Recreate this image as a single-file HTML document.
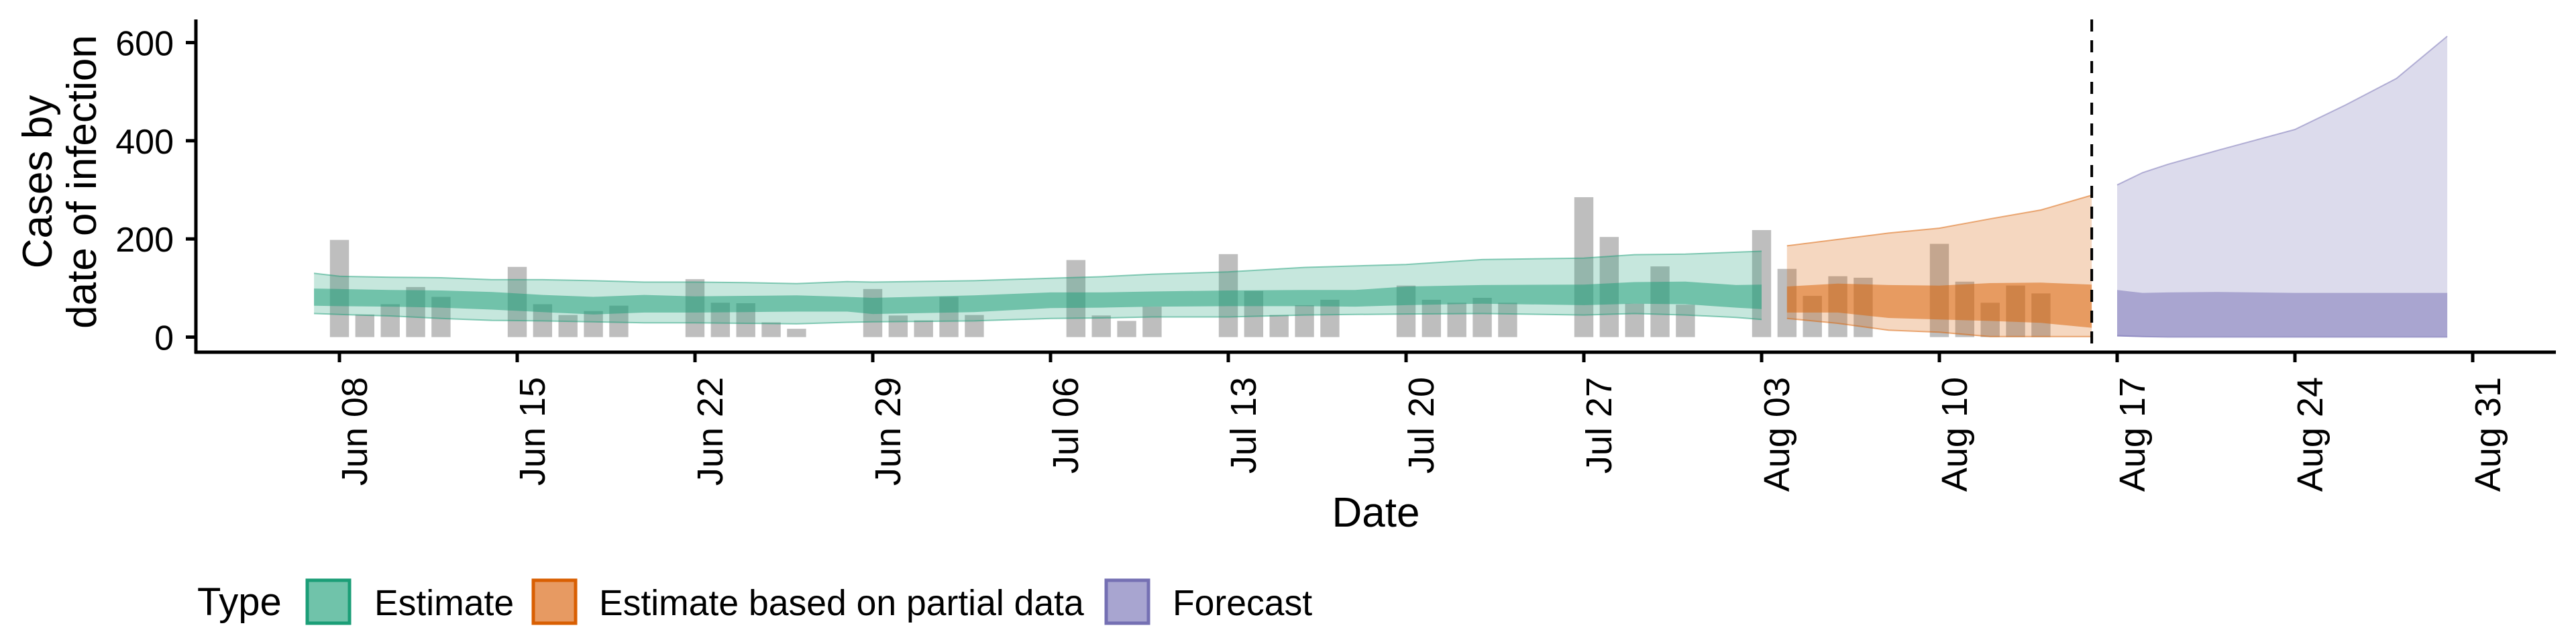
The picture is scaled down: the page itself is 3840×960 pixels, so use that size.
<!DOCTYPE html>
<html><head><meta charset="utf-8"><style>
html,body{margin:0;padding:0;background:#fff;}
svg{display:block;font-family:"Liberation Sans",sans-serif;}
</style></head><body>
<svg id="chart" width="3840" height="960" viewBox="0 0 3840 960" xmlns="http://www.w3.org/2000/svg">
<g id="bars"></g>
<g id="ribbons"></g>
<g id="axes"></g>
<g font-size="62" fill="#000">
<text transform="translate(77,271) rotate(-90)" text-anchor="middle">Cases by</text>
<text transform="translate(143,271) rotate(-90)" text-anchor="middle">date of infection</text>
</g>
<text x="2051" y="785" font-size="62" text-anchor="middle">Date</text>
<g font-size="53.5">
<text x="294" y="917" font-size="58">Type</text>
<g>
<rect x="458" y="865" width="63" height="64" fill="#70c3aa" stroke="#1b9e77" stroke-width="5"/>
<text x="558" y="917">Estimate</text></g>
<g>
<rect x="795" y="865" width="63" height="64" fill="#e79a62" stroke="#d95f02" stroke-width="5"/>
<text x="893" y="917">Estimate based on partial data</text></g>
<g>
<rect x="1649" y="865" width="63" height="64" fill="#a8a5d0" stroke="#7570b3" stroke-width="5"/>
<text x="1748" y="917">Forecast</text></g>
</g>
</svg>
<script>
// observed cases (day offset from Jun 08)
const barDays = [0,1,2,3,4,7,8,9,10,11,14,15,16,17,18,21,22,23,24,25,29,30,31,32,35,36,37,38,39,42,43,44,45,46,49,50,51,52,53,56,57,58,59,60,63,64,65,66,67];
const barValues = [198,46,67,102,82,143,67,45,53,64,118,70,69,30,17,98,44,34,82,45,157,44,33,62,169,94,45,65,76,105,76,70,80,70,285,204,68,144,66,218,139,84,124,121,190,113,70,105,89];
// Estimate
const estDays = [-1,0,2,4,6,8,10,12,14,16,18,20,21,25,28,30,32,35,38,40,42,45,49,51,53,55,56];
const estHi90 = [130,124,122,121,117,117,115,112,112,111,109,113,112,115,120,123,128,133,142,145,148,158,161,168,169,173,175];
const estLo90 = [48,46,43,38,34,33,31,29,29,28,27,30,31,33,38,39,41,41,45,46,47,48,45,48,45,40,36];
const estHi50 = [99,98,96,95,92,86,82,86,83,84,85,82,80,85,91,91,93,95,96,96,103,106,107,112,113,106,107];
const estLo50 = [64,63,62,60,56,51,46,50,50,51,52,52,47,51,59,60,62,63,63,62,65,68,65,68,67,60,57];
// Estimate based on partial data
const partDays = [57,59,61,63,65,67,69];
const partHi90 = [186,199,212,222,241,259,289];
const partLo90 = [38,28,14,10,1,1,1];
const partHi50 = [103,109,106,105,110,111,107];
const partLo50 = [50,50,39,36,33,29,19];
// Forecast
const fcDays = [70,71,72,74,77,79,81,83];
const fcHi90 = [310,335,352,381,423,473,527,613];
const fcLo90 = [3,1,0,0,0,0,0,0];
const fcHi50 = [96,90,91,92,90,90,90,90];
const fcLo50 = [1,0,0,0,0,0,0,0];
const yTicks = [0,200,400,600];
const xTickDays = [0,7,14,21,28,35,42,49,56,63,70,77,84];
const xTickLabels = ["Jun 08","Jun 15","Jun 22","Jun 29","Jul 06","Jul 13","Jul 20","Jul 27","Aug 03","Aug 10","Aug 17","Aug 24","Aug 31"];
const forecastStartDay = 69;

const NS = "http://www.w3.org/2000/svg";
const X0 = 506, DAY = 37.857, Y0 = 502.5, UNIT = 0.7317;
const sx = d => X0 + d * DAY;
const sy = v => Y0 - v * UNIT;
function mk(tag, attrs, parent) {
  const e = document.createElementNS(NS, tag);
  for (const k in attrs) e.setAttribute(k, attrs[k]);
  parent.appendChild(e);
  return e;
}
const bars = document.getElementById('bars');
barDays.forEach((d, i) => {
  const r = mk('rect', {x: sx(d) - 14.2, y: sy(barValues[i]), width: 28.4, height: barValues[i] * UNIT, fill: '#bebebe'}, bars);
  
  
});
const rib = document.getElementById('ribbons');
function band(days, hi, lo, color, op, name, edge) {
  let p = days.map((d, i) => (i ? 'L' : 'M') + sx(d).toFixed(1) + ',' + sy(hi[i]).toFixed(1)).join(' ');
  for (let i = days.length - 1; i >= 0; i--) p += ' L' + sx(days[i]).toFixed(1) + ',' + sy(lo[i]).toFixed(1);
  p += ' Z';
  const e = mk('path', {d: p, fill: color, 'fill-opacity': op}, rib);
  
  
  if (edge) {
    const t = days.map((d, i) => (i ? 'L' : 'M') + sx(d).toFixed(1) + ',' + sy(hi[i]).toFixed(1)).join(' ');
    const b = days.map((d, i) => (i ? 'L' : 'M') + sx(d).toFixed(1) + ',' + sy(lo[i]).toFixed(1)).join(' ');
    const l1 = mk('path', {d: t, fill: 'none', stroke: color, 'stroke-opacity': 0.5, 'stroke-width': 2}, rib);
    
    
    const l2 = mk('path', {d: b, fill: 'none', stroke: color, 'stroke-opacity': 0.5, 'stroke-width': 2}, rib);
    
    
  }
}
band(estDays, estHi90, estLo90, '#1b9e77', 0.25, 'estimate-90-ribbon', true);
band(estDays, estHi50, estLo50, '#1b9e77', 0.5, 'estimate-50-ribbon', false);
band(partDays, partHi90, partLo90, '#d95f02', 0.25, 'partial-90-ribbon', true);
band(partDays, partHi50, partLo50, '#d95f02', 0.5, 'partial-50-ribbon', false);
band(fcDays, fcHi90, fcLo90, '#7570b3', 0.25, 'forecast-90-ribbon', true);
band(fcDays, fcHi50, fcLo50, '#7570b3', 0.5, 'forecast-50-ribbon', false);

const ax = document.getElementById('axes');
const dash = mk('line', {x1: sx(forecastStartDay), x2: sx(forecastStartDay), y1: 29, y2: 522, stroke: '#000', 'stroke-width': 4, 'stroke-dasharray': '18,13'}, ax);


const ya = mk('line', {x1: 292, x2: 292, y1: 29, y2: 527, stroke: '#000', 'stroke-width': 5}, ax);


const xa = mk('line', {x1: 290, x2: 3810, y1: 525, y2: 525, stroke: '#000', 'stroke-width': 5}, ax);


yTicks.forEach(v => {
  const t = mk('line', {x1: 277, x2: 292, y1: sy(v), y2: sy(v), stroke: '#000', 'stroke-width': 5}, ax);
  
  
  const l = mk('text', {x: 259, y: sy(v) + 19, 'font-size': 52, 'text-anchor': 'end'}, ax);
  l.textContent = v;
  
  
});
xTickDays.forEach((d, i) => {
  const t = mk('line', {x1: sx(d), x2: sx(d), y1: 525, y2: 540, stroke: '#000', 'stroke-width': 5}, ax);
  
  
  const l = mk('text', {transform: 'translate(' + (sx(d) + 41) + ',562) rotate(-90)', 'font-size': 54, 'text-anchor': 'end'}, ax);
  l.textContent = xTickLabels[i];
  
  
});
</script>
</body></html>
